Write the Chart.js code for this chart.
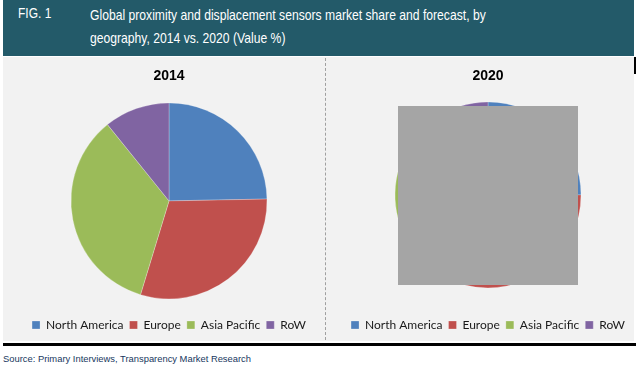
<!DOCTYPE html>
<html>
<head>
<meta charset="utf-8">
<script src="https://cdn.jsdelivr.net/npm/chart.js@4/dist/chart.umd.min.js"></script>
<style>
  body { margin: 0; width: 636px; height: 367px; background: #fff; position: relative; overflow: hidden; font-family: "Liberation Sans", Arial, sans-serif; }
  .header { position: absolute; left: 3px; top: 0; width: 631px; height: 56px; background: #235a69; color: #fff; }
  .fig { position: absolute; left: 15px; top: 4px; font-size: 15px; transform: scaleX(0.8); transform-origin: left top; }
  .title { position: absolute; left: 87px; top: 3px; font-size: 15px; line-height: 23px; white-space: nowrap; transform: scaleX(0.81); transform-origin: left top; }
  .panel { position: absolute; top: 57px; height: 284px; background: #f2f2f2; }
  .divider { position: absolute; left: 325px; top: 58px; height: 282px; border-left: 1px dashed #a0a0a0; }
  .rule { position: absolute; left: 3px; top: 343px; width: 633px; height: 3px; background: #000; }
  .mark { position: absolute; left: 634px; top: 57px; width: 2px; height: 17px; background: #000; }
  .mask { position: absolute; left: 398px; top: 106px; width: 180px; height: 179px; background: #a5a5a5; }
  .source { position: absolute; left: 3px; top: 353px; font-size: 9.4px; color: #17375e; }
  canvas { position: absolute; }
</style>
</head>
<body>
<div class="header">
  <div class="fig">FIG. 1</div>
  <div class="title">Global proximity and displacement sensors market share and forecast, by<br>geography, 2014 vs. 2020 (Value %)</div>
</div>
<div class="panel" style="left:3px;width:631px"></div>
<div class="divider"></div>
<div style="position:absolute;left:3px;top:57px;width:322px;height:284px"><canvas id="chart2014"></canvas></div>
<div style="position:absolute;left:326px;top:57px;width:308px;height:284px"><canvas id="chart2020"></canvas></div>
<div class="mask"></div>
<div class="mark"></div>
<div class="rule"></div>
<div class="source">Source: Primary Interviews, Transparency Market Research</div>

<script>
const regions = ['North America', 'Europe', 'Asia Pacific', 'RoW'];
const share2014 = [24.7, 30.0, 34.5, 10.8];
const share2020 = [25.0, 29.0, 36.0, 10.0];
const colors = ['#4f81bd', '#c0504d', '#9bbb59', '#8064a2'];

function makePie(id, title, values, radius, padLeft, titleGap) {
    const ctx = document.getElementById(id);
    return new Chart(ctx, {
        type: 'pie',
        data: {
            labels: regions,
            datasets: [{
                data: values,
                backgroundColor: colors,
                borderColor: 'rgba(255,255,255,0.5)',
                borderWidth: 0.5,
                radius: radius
            }]
        },
        options: {
            responsive: true,
            maintainAspectRatio: false,
            animation: false,
            layout: { padding: { left: padLeft, bottom: 0 } },
            plugins: {
                title: {
                    display: true,
                    text: title,
                    color: '#000',
                    font: { family: 'Liberation Sans', size: 14, weight: 'bold' },
                    padding: { top: 11, bottom: titleGap }
                },
                legend: {
                    position: 'bottom',
                    labels: {
                        color: '#1a1a1a',
                        font: { family: 'Lato', size: 12 },
                        boxWidth: 8,
                        boxHeight: 8,
                        padding: 6
                    }
                },
                tooltip: { enabled: false }
            }
        }
    });
}

makePie('chart2014', '2014', share2014, 98, 10, 4);
makePie('chart2020', '2020', share2020, 93, 16, -8);
</script>
</body>
</html>
